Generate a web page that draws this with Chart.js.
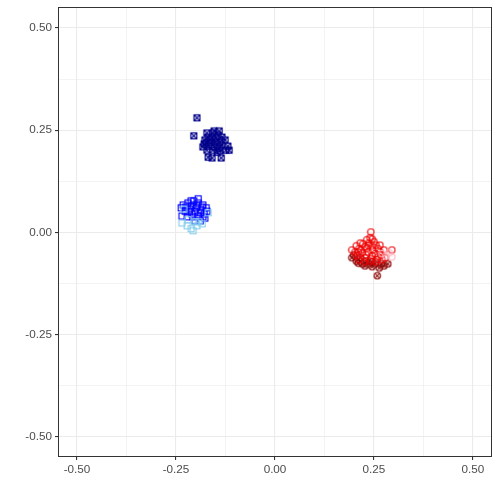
<!DOCTYPE html>
<html><head><meta charset="utf-8">
<script src="https://cdn.jsdelivr.net/npm/chart.js@4"></script>
<style>html,body{margin:0;padding:0;background:#fff}#wrap{width:500px;height:500px}</style>
</head><body><div id="wrap"><canvas id="c" width="500" height="500"></canvas></div>
<script>
// ---- data ----
const navyX = [-0.197,-0.205,-0.172,-0.157,-0.144,-0.177,-0.164,-0.152,-0.139,-0.167,-0.154,-0.141,-0.179,-0.126,-0.119,-0.116,-0.169,-0.159,-0.136,-0.159,-0.149,-0.134,-0.172,-0.146,-0.169,-0.162,-0.146,-0.134,-0.174,-0.157,-0.139,-0.182,-0.124,-0.154,-0.141];
const navyY = [0.280,0.236,0.243,0.243,0.238,0.226,0.226,0.221,0.221,0.211,0.209,0.206,0.216,0.226,0.211,0.201,0.184,0.182,0.182,0.231,0.231,0.233,0.201,0.196,0.233,0.219,0.214,0.214,0.219,0.201,0.199,0.209,0.201,0.248,0.248];
const lightBlueX = [-0.235,-0.222,-0.212,-0.207,-0.197,-0.220,-0.192,-0.169,-0.230,-0.202,-0.184];
const lightBlueY = [0.023,0.016,0.009,0.004,0.016,0.031,0.026,0.048,0.057,0.026,0.021];
const blueX = [-0.232,-0.220,-0.205,-0.194,-0.182,-0.172,-0.227,-0.215,-0.199,-0.187,-0.210,-0.194,-0.179,-0.222,-0.202,-0.189,-0.177,-0.235,-0.207,-0.225,-0.212,-0.197,-0.184,-0.217,-0.202,-0.189,-0.174,-0.207,-0.182,-0.194,-0.212,-0.237];
const blueY = [0.067,0.072,0.077,0.072,0.067,0.052,0.052,0.057,0.060,0.055,0.045,0.040,0.045,0.038,0.028,0.028,0.035,0.040,0.067,0.062,0.065,0.065,0.062,0.050,0.050,0.048,0.060,0.038,0.038,0.082,0.077,0.060];
const pinkX = [0.280,0.288,0.295,0.270];
const pinkY = [-0.057,-0.050,-0.060,-0.052];
const redX = [0.242,0.240,0.237,0.227,0.245,0.260,0.212,0.220,0.235,0.253,0.268,0.207,0.227,0.242,0.258,0.278,0.295,0.222,0.232,0.247,0.255,0.217,0.230,0.245,0.260,0.225,0.240,0.255,0.265,0.210,0.235,0.250,0.232,0.245,0.270,0.202,0.212,0.205,0.215,0.265,0.275,0.194];
const redY = [0.001,-0.013,-0.026,-0.035,-0.033,-0.040,-0.040,-0.050,-0.048,-0.052,-0.055,-0.057,-0.062,-0.065,-0.067,-0.062,-0.043,-0.028,-0.038,-0.043,-0.031,-0.043,-0.055,-0.057,-0.060,-0.072,-0.070,-0.072,-0.048,-0.048,-0.031,-0.023,-0.018,-0.016,-0.067,-0.048,-0.067,-0.033,-0.026,-0.031,-0.043,-0.043];
const darkRedX = [0.199,0.205,0.220,0.237,0.253,0.268,0.275,0.258,0.215,0.230,0.245,0.210,0.227,0.245,0.263,0.194,0.285];
const darkRedY = [-0.055,-0.070,-0.077,-0.077,-0.077,-0.077,-0.082,-0.106,-0.062,-0.070,-0.072,-0.075,-0.082,-0.084,-0.087,-0.062,-0.077];
const majorTicks = [-0.5,-0.25,0,0.25,0.5];
const minorTicks = [-0.375,-0.125,0.125,0.375];
const tickLabels = ["-0.50","-0.25","0.00","0.25","0.50"];

// ---- marker glyphs ----
function glyph(kind, color){
  const s = 9, c = document.createElement('canvas'); c.width = s; c.height = s;
  const g = c.getContext('2d'); g.strokeStyle = color; g.lineWidth = 1.1;
  const a = 1.5, b = 7.5;
  if (kind === 'sq' || kind === 'sqx'){
    g.strokeRect(a, a, b - a, b - a);
    if (kind === 'sqx'){ g.beginPath(); g.moveTo(a,a); g.lineTo(b,b); g.moveTo(b,a); g.lineTo(a,b); g.stroke(); }
  } else {
    g.beginPath(); g.arc(4.5, 4.5, 3.2, 0, Math.PI*2); g.stroke();
    if (kind === 'cx'){ g.beginPath(); g.moveTo(2.2,2.2); g.lineTo(6.8,6.8); g.moveTo(6.8,2.2); g.lineTo(2.2,6.8); g.stroke(); }
  }
  return c;
}
const pts = (xs, ys) => xs.map((x,i)=>({x, y: ys[i]}));
function ds(label, xs, ys, kind, color){
  return {label, data: pts(xs, ys), pointStyle: glyph(kind, color), pointRadius: 4, borderColor: color, backgroundColor: color};
}

const borderPlugin = {
  id: 'panelBorder',
  afterDraw(chart){
    const {ctx, chartArea: a} = chart;
    ctx.save(); ctx.strokeStyle = '#333333'; ctx.lineWidth = 1;
    ctx.strokeRect(Math.round(a.left)+0.5, Math.round(a.top)+0.5, Math.round(a.right-a.left)-1, Math.round(a.bottom-a.top)-1);
    ctx.restore();
  }
};
const allTicks = [...majorTicks, ...minorTicks].sort((p,q)=>p-q);
function axisCommon(){
  return {
    type: 'linear',
    afterBuildTicks(scale){ scale.ticks = allTicks.map(v=>({value: v})); },
    grid: {
      color: '#EBEBEB',
      lineWidth: ctx => (ctx.tick && minorTicks.includes(ctx.tick.value)) ? 0.6 : 1.1,
      tickColor: ctx => (ctx.tick && minorTicks.includes(ctx.tick.value)) ? 'rgba(0,0,0,0)' : '#333333',
      tickLength: 3, drawTicks: true
    },
    border: {display: false},
    ticks: {
      autoSkip: false, maxRotation: 0, padding: 3, color: '#4D4D4D',
      font: {family: 'Liberation Sans, Arial, sans-serif', size: 11.7},
      callback: v => { const i = majorTicks.indexOf(v); return i >= 0 ? tickLabels[i] : ''; }
    }
  };
}
const xAxis = Object.assign(axisCommon(), {min: -0.548, max: 0.548, afterFit(s){ s.height = 43; s.paddingLeft = 0; s.paddingRight = 0; }});
const yAxis = Object.assign(axisCommon(), {min: -0.549, max: 0.551, afterFit(s){ s.width = 58; s.paddingTop = 0; s.paddingBottom = 0; }});

new Chart(document.getElementById('c'), {
  type: 'scatter',
  data: {datasets: [
    ds('lightblue', lightBlueX, lightBlueY, 'sq', '#87CEEB'),
    ds('blue', blueX, blueY, 'sq', '#0000FF'),
    ds('navy', navyX, navyY, 'sqx', '#00008B'),
    ds('pink', pinkX, pinkY, 'c', '#FFB6C1'),
    ds('red', redX, redY, 'c', '#EE0000'),
    ds('darkred', darkRedX, darkRedY, 'cx', '#8B0000')
  ]},
  options: {
    responsive: false, animation: false, devicePixelRatio: 1,
    layout: {padding: {left: 0, top: 7, right: 8, bottom: 0}},
    plugins: {legend: {display: false}, tooltip: {enabled: false}},
    scales: {x: xAxis, y: yAxis}
  },
  plugins: [borderPlugin]
});
</script></body></html>
